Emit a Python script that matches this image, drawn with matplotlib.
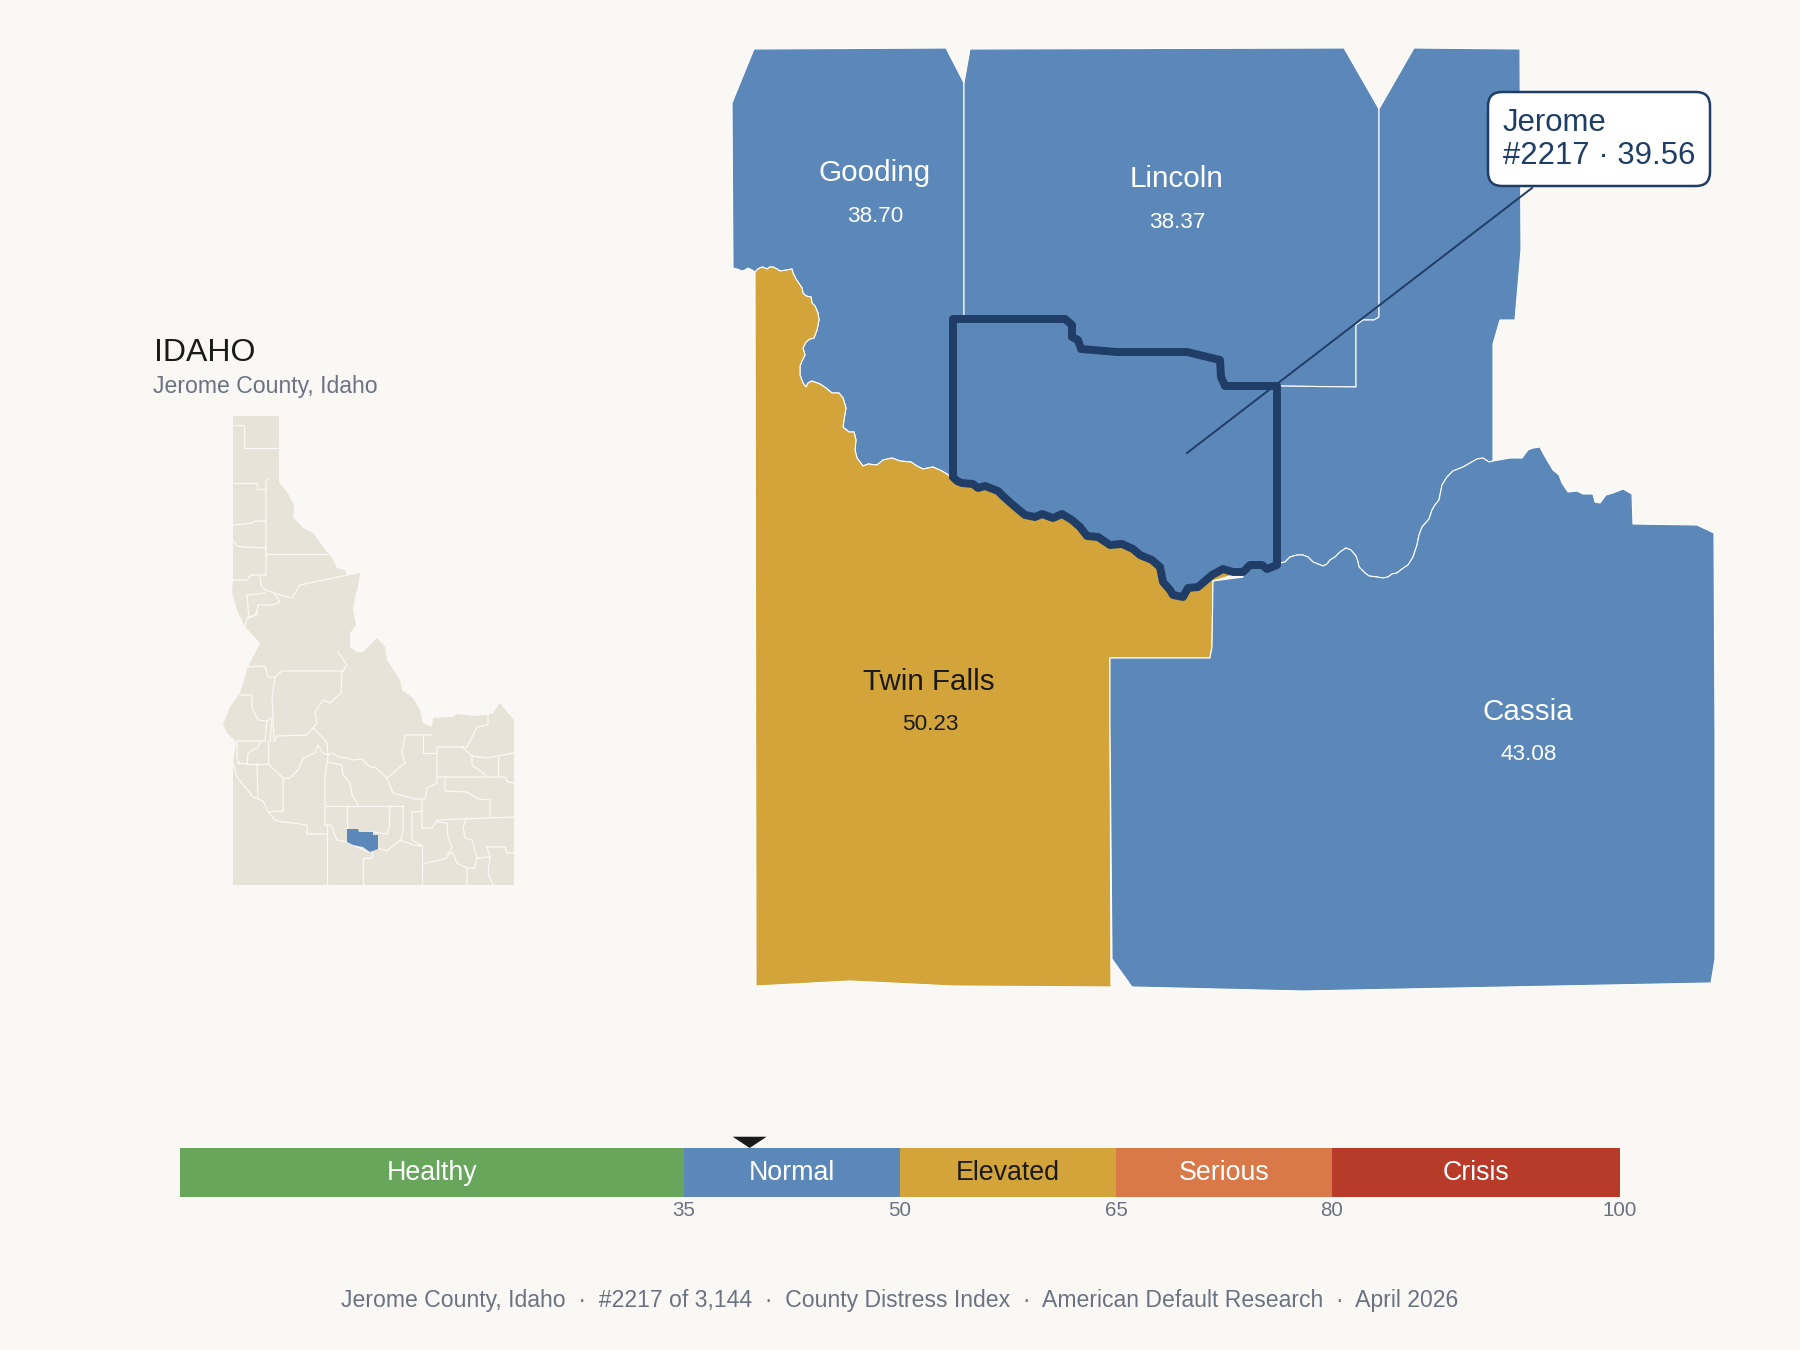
import matplotlib
matplotlib.use('Agg')
import matplotlib.pyplot as plt
from matplotlib.patches import Polygon, FancyBboxPatch

plt.rcParams['font.family'] = ['Liberation Sans', 'DejaVu Sans']

BG = '#faf8f5'
BLUE = '#5b88b8'
GOLD = '#d2a43a'
NAVY = '#1f3d66'
LAND = '#e8e3d9'
GREY = '#6b7280'
INK = '#1a1a1a'

# river, gooding side first; twin falls only starts at (755, 272)
river_gooding = [(733, 268), (737, 269), (742, 271), (745, 270), (748, 268), (752, 270)]
river_twin = [(755, 272), (758, 269), (762, 267), (765, 268), (767, 269), (770, 267), (773, 267), (777, 269),
              (780, 271), (787, 270), (792, 269), (793, 273), (796, 279), (802, 288), (803, 293), (806, 296),
              (811, 297), (812, 303), (815, 306), (818, 313), (819, 320), (817, 330), (814, 338), (810, 339),
              (806, 342), (803, 348), (805, 355), (802, 361), (800, 366), (800, 375), (803, 383), (806, 387),
              (808, 383), (812, 381), (820, 384), (826, 388), (832, 393), (839, 393), (843, 398), (846, 408),
              (844, 420), (843, 427), (849, 432), (854, 432), (856, 440), (855, 450), (857, 458), (863, 466),
              (868, 464), (877, 465), (883, 460), (892, 458), (900, 461), (911, 462), (917, 466), (923, 469),
              (933, 467), (942, 471), (950, 476), (953, 477)]
# jerome south edge, west to east
jerome_twin = [(953, 477), (957, 481), (962, 483), (973, 484), (978, 488), (985, 486), (998, 491), (1004, 497),
               (1013, 505), (1025, 515), (1035, 517), (1042, 514), (1053, 518), (1062, 514), (1072, 520), (1080, 527),
               (1087, 536), (1098, 537), (1110, 545), (1122, 544), (1133, 549), (1140, 555), (1152, 560), (1160, 567),
               (1163, 582), (1170, 590), (1173, 595), (1183, 597), (1188, 588), (1198, 587), (1212, 575),
               (1223, 569), (1233, 572), (1243, 572)]
jerome_cassia = [(1243, 572), (1250, 565), (1262, 565), (1267, 569), (1277, 565)]
jerome_north = [(1277, 386), (1225, 386), (1221, 377), (1220, 360), (1187, 352), (1117, 352), (1081, 349), (1078, 340),
                (1072, 337), (1072, 325), (1065, 319), (953, 319)]
# river between minidoka and cassia
river_east = [(1277, 565), (1280, 563), (1285, 562), (1290, 557), (1297, 555), (1303, 555), (1308, 557), (1313, 562),
              (1318, 564), (1323, 566), (1327, 564), (1330, 560), (1335, 557), (1340, 552), (1346, 548), (1351, 550),
              (1356, 556), (1358, 562), (1359, 567), (1365, 573), (1369, 576), (1377, 577), (1383, 578), (1388, 577),
              (1392, 574), (1397, 573), (1402, 569), (1408, 565), (1413, 557), (1417, 545), (1419, 535), (1422, 527),
              (1429, 519), (1432, 510), (1435, 505), (1439, 500), (1442, 485), (1447, 477), (1453, 471), (1463, 467),
              (1477, 459), (1483, 458), (1489, 462), (1493, 461)]

gooding_rest = [(953, 319), (964, 319), (964, 83), (946, 48), (754, 49), (732, 103)]
lincoln_rest = [(964, 319), (964, 83), (970, 49), (1344, 48), (1379, 109), (1379, 317), (1374, 320), (1363, 320),
                (1356, 325), (1356, 387)]
minidoka_rest = [(1493, 459), (1493, 344), (1500, 320), (1515, 320), (1521, 250), (1520, 49), (1414, 48), (1379, 109),
                 (1379, 317), (1374, 320), (1363, 320), (1356, 325), (1356, 387), (1277, 386)]
cassia_rest = [(1510, 458), (1522, 458), (1528, 450), (1533, 448), (1540, 447), (1543, 453), (1547, 460), (1553, 470),
               (1559, 475), (1562, 483), (1568, 492), (1577, 491), (1583, 494), (1593, 494), (1595, 502), (1600, 503),
               (1606, 495), (1613, 493), (1623, 489), (1632, 494), (1633, 524), (1697, 525), (1714, 533), (1715, 729),
               (1715, 959), (1711, 983), (1303, 991), (1132, 987), (1112, 959), (1110, 725), (1110, 658), (1210, 658),
               (1212, 647), (1213, 581), (1243, 577)]
twin_rest = [(1213, 581), (1212, 647), (1210, 658), (1110, 658), (1110, 725), (1111, 987), (953, 986),
             (850, 981), (756, 986)]

county_labels = ['Gooding', 'Lincoln', 'Twin Falls', 'Cassia']
county_scores = ['38.70', '38.37', '50.23', '43.08']
label_xy = [(875, 173), (1177, 179), (929, 682), (1528, 712)]
score_xy = [(875, 216), (1177, 223), (930, 725), (1529, 754)]
label_colors = ['white', 'white', INK, 'white']

# inset map of the state
idaho_outline = [(233, 416), (279, 416), (279, 482), (287, 492), (294, 505), (293, 517), (303, 528), (313, 533),
                 (327, 552), (332, 558), (337, 568), (345, 570), (346, 575), (360, 573), (358, 587), (355, 597),
                 (353, 610), (356, 625), (350, 633), (350, 647), (357, 652), (363, 652), (377, 638), (385, 647),
                 (387, 660), (400, 680), (402, 690), (413, 698), (420, 710), (423, 723), (432, 727), (433, 718),
                 (453, 717), (457, 714), (473, 716), (487, 715), (493, 713), (500, 703), (507, 712), (514, 720),
                 (514, 885), (233, 885), (233, 763), (236, 742), (227, 733), (223, 725), (230, 707), (240, 693),
                 (248, 667), (260, 643), (245, 627), (237, 610), (232, 592), (233, 580)]
idaho_jerome = [(347, 829), (358, 829), (359, 832), (373, 832), (373, 835), (378, 835), (378, 849), (370, 852),
                (363, 847), (353, 845), (347, 842)]
idaho_borders = [
    [(233, 425), (244, 425), (244, 448), (279, 448)],
    [(233, 483), (257, 483), (257, 489), (266, 489)],
    [(268, 478), (266, 482), (266, 575)],
    [(266, 554), (330, 554)],
    [(233, 525), (243, 524), (252, 523), (255, 521), (266, 521)],
    [(233, 541), (237, 546), (243, 547), (266, 548)],
    [(233, 580), (247, 580), (251, 575), (266, 575)],
    [(260, 575), (261, 585), (265, 590), (272, 592), (280, 595), (292, 598), (300, 585), (357, 573)],
    [(247, 595), (265, 593)],
    [(247, 595), (249, 618)],
    [(258, 605), (273, 605), (280, 602), (273, 592)],
    [(258, 605), (257, 615), (247, 618), (245, 627)],
    [(257, 610), (255, 615), (247, 618)],
    [(248, 667), (265, 666), (268, 677), (275, 677)],
    [(275, 677), (282, 671), (343, 671)],
    [(338, 652), (347, 665), (342, 672)],
    [(342, 672), (341, 693), (330, 703), (323, 700), (315, 712), (317, 723), (313, 728), (307, 735), (277, 736), (275, 741)],
    [(275, 677), (272, 697), (273, 717), (274, 741)],
    [(240, 695), (252, 695), (252, 708), (258, 720), (267, 721), (273, 717)],
    [(267, 721), (265, 741), (237, 741)],
    [(272, 720), (270, 741)],
    [(260, 742), (258, 747), (248, 753), (247, 764), (237, 763)],
    [(268, 741), (268, 764), (247, 764)],
    [(237, 742), (237, 758), (240, 764)],
    [(268, 764), (283, 778), (290, 778), (298, 770), (303, 758), (315, 753), (318, 745), (323, 753), (328, 755)],
    [(313, 728), (323, 738), (327, 743), (328, 755), (333, 753), (338, 757), (348, 758), (352, 760), (362, 759),
     (370, 767), (375, 767), (387, 778)],
    [(328, 755), (327, 762), (325, 778), (325, 825)],
    [(327, 762), (342, 765), (343, 775), (350, 783), (352, 795), (358, 805)],
    [(325, 806), (403, 806)],
    [(347, 806), (347, 829)],
    [(390, 806), (389, 828), (387, 834), (373, 832)],
    [(403, 806), (403, 830), (401, 840)],
    [(325, 825), (331, 825), (337, 840), (347, 842), (353, 845), (368, 852), (378, 848), (387, 851), (400, 840),
     (413, 845), (422, 846)],
    [(233, 763), (237, 777), (253, 797), (263, 801), (267, 810), (275, 820), (282, 822), (293, 823), (307, 825),
     (307, 834), (327, 834)],
    [(257, 764), (258, 798)],
    [(283, 778), (283, 811), (268, 812)],
    [(327, 825), (327, 885)],
    [(387, 778), (393, 793), (415, 799), (425, 799), (427, 788), (437, 783), (437, 747), (467, 747), (477, 727),
     (488, 725), (488, 715)],
    [(387, 778), (405, 763), (402, 753), (405, 735), (432, 735)],
    [(423, 736), (423, 753), (437, 753)],
    [(462, 747), (472, 756), (487, 758), (503, 755), (514, 753)],
    [(472, 756), (472, 765), (487, 776)],
    [(498, 757), (498, 777)],
    [(437, 777), (505, 777), (508, 782), (514, 783)],
    [(445, 777), (445, 791), (467, 792), (478, 799), (490, 800), (490, 817)],
    [(422, 800), (422, 828), (432, 828), (437, 820), (514, 817)],
    [(412, 812), (422, 811)],
    [(412, 812), (412, 840), (422, 846)],
    [(422, 846), (422, 885)],
    [(363, 858), (363, 885)],
    [(363, 858), (372, 858), (372, 852)],
    [(437, 822), (447, 823), (448, 837), (452, 847), (447, 858), (423, 864)],
    [(447, 853), (453, 853), (457, 863), (467, 868), (467, 885)],
    [(467, 818), (463, 827), (465, 838), (472, 840), (477, 858), (475, 868), (467, 868)],
    [(477, 858), (490, 857), (488, 873), (493, 885)],
    [(487, 847), (505, 847), (507, 853), (514, 853)],
    [(487, 847), (490, 857)],
]

# gauge
band_names = ['Healthy', 'Normal', 'Elevated', 'Serious', 'Crisis']
band_edges = [0, 35, 50, 65, 80, 100]
band_colors = ['#67a65b', BLUE, GOLD, '#d97848', '#b83b2a']
band_text = ['white', 'white', INK, 'white', 'white']
tick_values = [35, 50, 65, 80, 100]
jerome_score = 39.56

fig = plt.figure(figsize=(18, 13.5), dpi=100, facecolor=BG)
ax = fig.add_axes([0, 0, 1, 1])
ax.set_xlim(0, 1800)
ax.set_ylim(1350, 0)
ax.axis('off')


def county(points, color, lw=0.8):
    ax.add_patch(Polygon(points, closed=True, facecolor=color, edgecolor='white', linewidth=lw, joinstyle='round'))


county(river_gooding + river_twin + gooding_rest, BLUE)
county(river_twin + jerome_twin[1:] + twin_rest, GOLD)
county(jerome_north + lincoln_rest, BLUE)
county(river_east + minidoka_rest, BLUE)
county(jerome_cassia + river_east[1:] + cassia_rest, BLUE)

jerome = jerome_twin + jerome_cassia[1:] + jerome_north
county(jerome, BLUE, lw=0)
ax.plot([p[0] for p in jerome + jerome[:1]], [p[1] for p in jerome + jerome[:1]],
        color=NAVY, lw=5.7, solid_joinstyle='round', solid_capstyle='round')

for name, score, lxy, sxy, c in zip(county_labels, county_scores, label_xy, score_xy, label_colors):
    ax.text(lxy[0], lxy[1], name, color=c, fontsize=21.3, ha='center', va='center')
    ax.text(sxy[0], sxy[1], score, color=c, fontsize=16.2, ha='center', va='center')

# leader and callout
ax.plot([1187, 1532], [453, 188], color=NAVY, lw=1.4, zorder=4)
ax.add_patch(FancyBboxPatch((1488, 92), 222, 94, boxstyle='round,pad=0,rounding_size=14',
                            facecolor='white', edgecolor=NAVY, lw=1.8, zorder=5))
ax.text(1503, 131, 'Jerome', color=NAVY, fontsize=22.4, ha='left', va='baseline', zorder=6)
ax.text(1503, 164, '#2217 · 39.56', color=NAVY, fontsize=22.4, ha='left', va='baseline', zorder=6)

# inset
ax.add_patch(Polygon(idaho_outline, closed=True, facecolor=LAND, edgecolor='none'))
for line in idaho_borders:
    ax.plot([p[0] for p in line], [p[1] for p in line], color=BG, lw=0.9, solid_joinstyle='round')
ax.add_patch(Polygon(idaho_jerome, closed=True, facecolor=BLUE, edgecolor='none', zorder=3))

ax.text(154, 353, 'IDAHO', color=INK, fontsize=23, ha='left', va='center')
ax.text(153, 386, 'Jerome County, Idaho', color=GREY, fontsize=16.6, ha='left', va='center')

ax.text(900, 1301, 'Jerome County, Idaho  ·  #2217 of 3,144  ·  County Distress Index  ·  American Default Research  ·  April 2026',
        color=GREY, fontsize=16.6, ha='center', va='center')

# gauge axes, 0-100 across 1440 px
gauge = fig.add_axes([180 / 1800, 1 - 1197 / 1350, 1440 / 1800, 49 / 1350])
gauge.set_xlim(0, 100)
gauge.set_ylim(0, 1)
gauge.axis('off')
for i, name in enumerate(band_names):
    gauge.barh(0.5, band_edges[i + 1] - band_edges[i], height=1, left=band_edges[i], color=band_colors[i])
    gauge.text((band_edges[i] + band_edges[i + 1]) / 2, 0.48, name, color=band_text[i], fontsize=19.3,
               ha='center', va='center')
for v in tick_values:
    gauge.text(v, -0.27, str(v), color=GREY, fontsize=14.8, ha='center', va='center', clip_on=False)
gauge.fill([jerome_score - 1.18, jerome_score + 1.18, jerome_score], [1.23, 1.23, 1.0], color=INK, clip_on=False, lw=0)

fig.savefig('out.png', dpi=100, facecolor=BG)
